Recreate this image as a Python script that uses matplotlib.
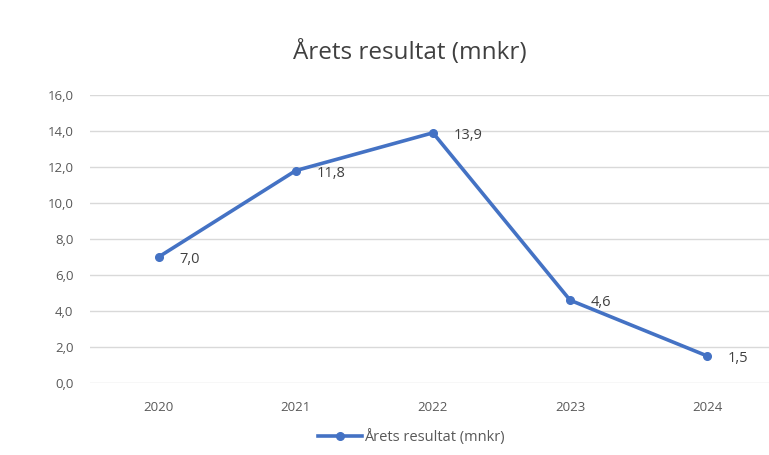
import matplotlib
matplotlib.use("Agg")
import matplotlib.pyplot as plt

# chart data
years = ["2020", "2021", "2022", "2023", "2024"]
result = [7.0, 11.8, 13.9, 4.6, 1.5]
labels = ["7,0", "11,8", "13,9", "4,6", "1,5"]
yticks = [0, 2, 4, 6, 8, 10, 12, 14, 16]
title = "Årets resultat (mnkr)"

plt.rcParams['font.family'] = ['Open Sans', 'DejaVu Sans']

fig = plt.figure(figsize=(7.69, 4.55), dpi=100)
ax = fig.add_axes([90/769, 72/455, 1 - 90/769, 288/455])

x = list(range(len(years)))
line, = ax.plot(x, result, color='#4472C4', lw=2.6, marker='o', ms=5.5,
                label=title)
for xi, yi, lab in zip(x, result, labels):
    ax.annotate(lab, (xi, yi), xytext=(15, -2), textcoords='offset points',
                fontsize=10.5, color='#404040', va='center', ha='left')

ax.set_xlim(-0.5, 4.45)
ax.set_ylim(0, 16)
ax.set_yticks(yticks)
ax.set_yticklabels([("%.1f" % v).replace('.', ',') for v in yticks])
ax.set_xticks(x)
ax.set_xticklabels(years)
ax.tick_params(length=0, labelsize=9.5, colors='#595959')
ax.tick_params(axis='x', pad=13)
ax.tick_params(axis='y', pad=12)
ax.grid(axis='y', color='#d9d9d9', lw=1)
ax.set_axisbelow(True)
for s in ax.spines.values():
    s.set_visible(False)

fig.text(0.533, 0.885, title, ha='center', va='center', fontsize=17.5,
         color='#404040')
fig.legend(handles=[line], loc='center', bbox_to_anchor=(0.535, 0.04),
           frameon=False, fontsize=10.5, labelcolor='#595959',
           handlelength=3, handletextpad=0.2)

fig.savefig("out.png", dpi=100)
